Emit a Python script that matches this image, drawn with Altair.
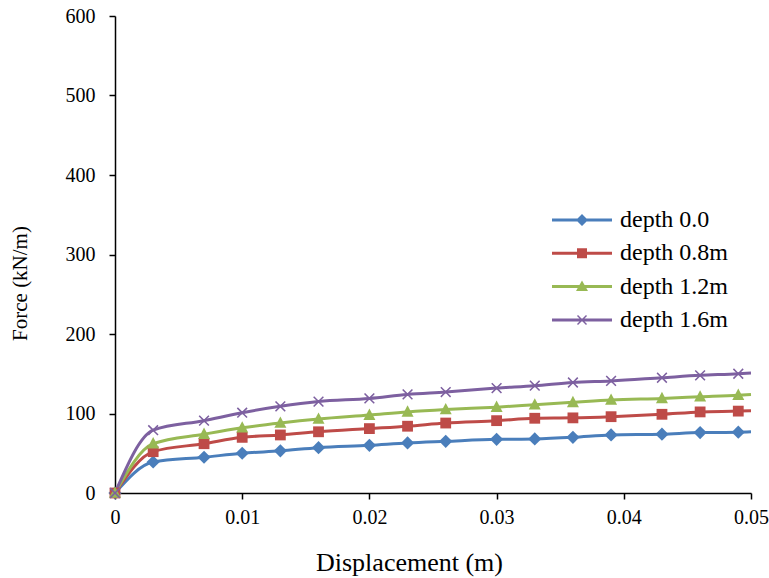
import altair as alt
import pandas as pd

# Displacement (m) at each recorded step; the last step closes the line without a marker
disp = [0, 0.003, 0.007, 0.01, 0.013, 0.016, 0.02, 0.023, 0.026, 0.03,
        0.033, 0.036, 0.039, 0.043, 0.046, 0.049, 0.05]
last_marker_disp = 0.049

series_names = ["depth 0.0", "depth 0.8m", "depth 1.2m", "depth 1.6m"]

# Force (kN/m) for each embedment depth
force_d00 = [0, 39, 45, 50, 53, 57, 60, 63, 65, 67.5, 68, 70, 73, 74, 76, 76.5, 77]
force_d08 = [0, 52, 62, 70, 73, 77, 81, 84, 88, 91, 94, 94.5, 96, 99, 102, 103, 103.5]
force_d12 = [0, 62, 74, 82, 88, 93, 98, 102, 105, 108, 111, 114, 117, 119, 121, 123, 124]
force_d16 = [0, 79, 91, 101, 109, 115, 119, 124, 127, 132, 135, 139, 141, 145, 148, 150, 151]

x_ticks = [0, 0.01, 0.02, 0.03, 0.04, 0.05]
y_ticks = [0, 100, 200, 300, 400, 500, 600]

colors = ["#4A7EBB", "#BE4B48", "#98B954", "#7D60A0"]

# Plot markers (unit square paths): diamond, square, triangle, x
marker_paths = [
    "M0,-1.1L1.1,0L0,1.1L-1.1,0Z",
    "M-0.9,-0.9H0.9V0.9H-0.9Z",
    "M0,-1.1L1,0.8H-1Z",
    "M-0.9,-0.72L-0.72,-0.9L0,-0.18L0.72,-0.9L0.9,-0.72L0.18,0L0.9,0.72"
    "L0.72,0.9L0,0.18L-0.72,0.9L-0.9,0.72L-0.18,0Z",
]
# Legend keys: a short line segment with the series marker on it
seg = "M-3,-0.15H3V0.15H-3Z"
legend_paths = [
    seg + "M0,-0.6L0.6,0L0,0.6L-0.6,0Z",
    seg + "M-0.5,-0.5H0.5V0.5H-0.5Z",
    seg + "M0,-0.6L0.6,0.45H-0.6Z",
    seg + "M-0.5,-0.4L-0.4,-0.5L0,-0.1L0.4,-0.5L0.5,-0.4L0.1,0L0.5,0.4"
          "L0.4,0.5L0,0.1L-0.4,0.5L-0.5,0.4L-0.1,0Z",
]

rows = []
for name, vals in zip(series_names, [force_d00, force_d08, force_d12, force_d16]):
    for d, f in zip(disp, vals):
        rows.append({"disp": d, "force": f, "series": name})
df = pd.DataFrame(rows)

FONT = "Liberation Serif"

x_enc = alt.X(
    "disp:Q",
    scale=alt.Scale(domain=[0, 0.05], nice=False, zero=False),
    axis=alt.Axis(
        values=x_ticks, format="~g", title="Displacement (m)",
        titleFontSize=26, titleFont=FONT, titleFontWeight="normal",
        titleX=294, titleY=77, titleBaseline="alphabetic", titleAlign="center",
        labelFontSize=20, labelFont=FONT, labelPadding=8, tickSize=6,
        grid=False, labelFlush=False, labelOverlap=False,
    ),
)
y_enc = alt.Y(
    "force:Q",
    scale=alt.Scale(domain=[0, 600], nice=False),
    axis=alt.Axis(
        values=y_ticks, title="Force (kN/m)",
        titleFontSize=21, titleFont=FONT, titleFontWeight="normal",
        titleAngle=270, titleX=-95, titleY=267,
        titleBaseline="middle", titleAlign="center",
        labelFontSize=20, labelFont=FONT, labelPadding=14, tickSize=6,
        grid=False, labelFlush=False,
    ),
)

color_scale = alt.Scale(domain=series_names, range=colors)

lines = alt.Chart(df).mark_line(strokeWidth=3, interpolate="monotone").encode(
    x=x_enc, y=y_enc,
    color=alt.Color("series:N", scale=color_scale, legend=None),
)

points = alt.Chart(df).transform_filter(
    alt.datum.disp <= last_marker_disp
).mark_point(filled=True, opacity=1, size=144, strokeWidth=0).encode(
    x=x_enc, y=y_enc,
    color=alt.Color("series:N", scale=color_scale, legend=None),
    shape=alt.Shape("series:N", scale=alt.Scale(domain=series_names, range=marker_paths), legend=None),
)

legend_cfg = dict(
    title=None, orient="none", legendX=455, legendY=192, padding=0,
    labelFont=FONT, labelFontSize=24, labelColor="black", labelOffset=26,
    symbolSize=400, symbolStrokeWidth=0, symbolOpacity=1, rowPadding=9.3,
)

# Key layer: no data rows, it only carries the legend
key = alt.Chart(df).transform_filter(
    alt.datum.disp < 0
).mark_point(filled=True, opacity=1).encode(
    x=x_enc, y=y_enc,
    color=alt.Color("series:N", scale=color_scale, legend=alt.Legend(**legend_cfg)),
    shape=alt.Shape("series:N", scale=alt.Scale(domain=series_names, range=legend_paths),
                    legend=alt.Legend(**legend_cfg)),
)

chart = alt.layer(lines, points, key).resolve_scale(
    color="independent", shape="independent"
).properties(
    width=636, height=477,
    autosize=alt.AutoSizeParams(type="none"),
    padding={"left": 115, "top": 16, "right": 18, "bottom": 85},
).configure(
    background="white", font=FONT
).configure_view(stroke=None).configure_axis(
    domainColor="black", domainWidth=1.5, tickColor="black", tickWidth=1.5,
    labelColor="black", titleColor="black", labelFont=FONT, titleFont=FONT,
).configure_legend(
    labelFont=FONT, labelFontSize=24, labelColor="black",
)

chart.save("out.html", embed_options={"renderer": "svg", "actions": False})
